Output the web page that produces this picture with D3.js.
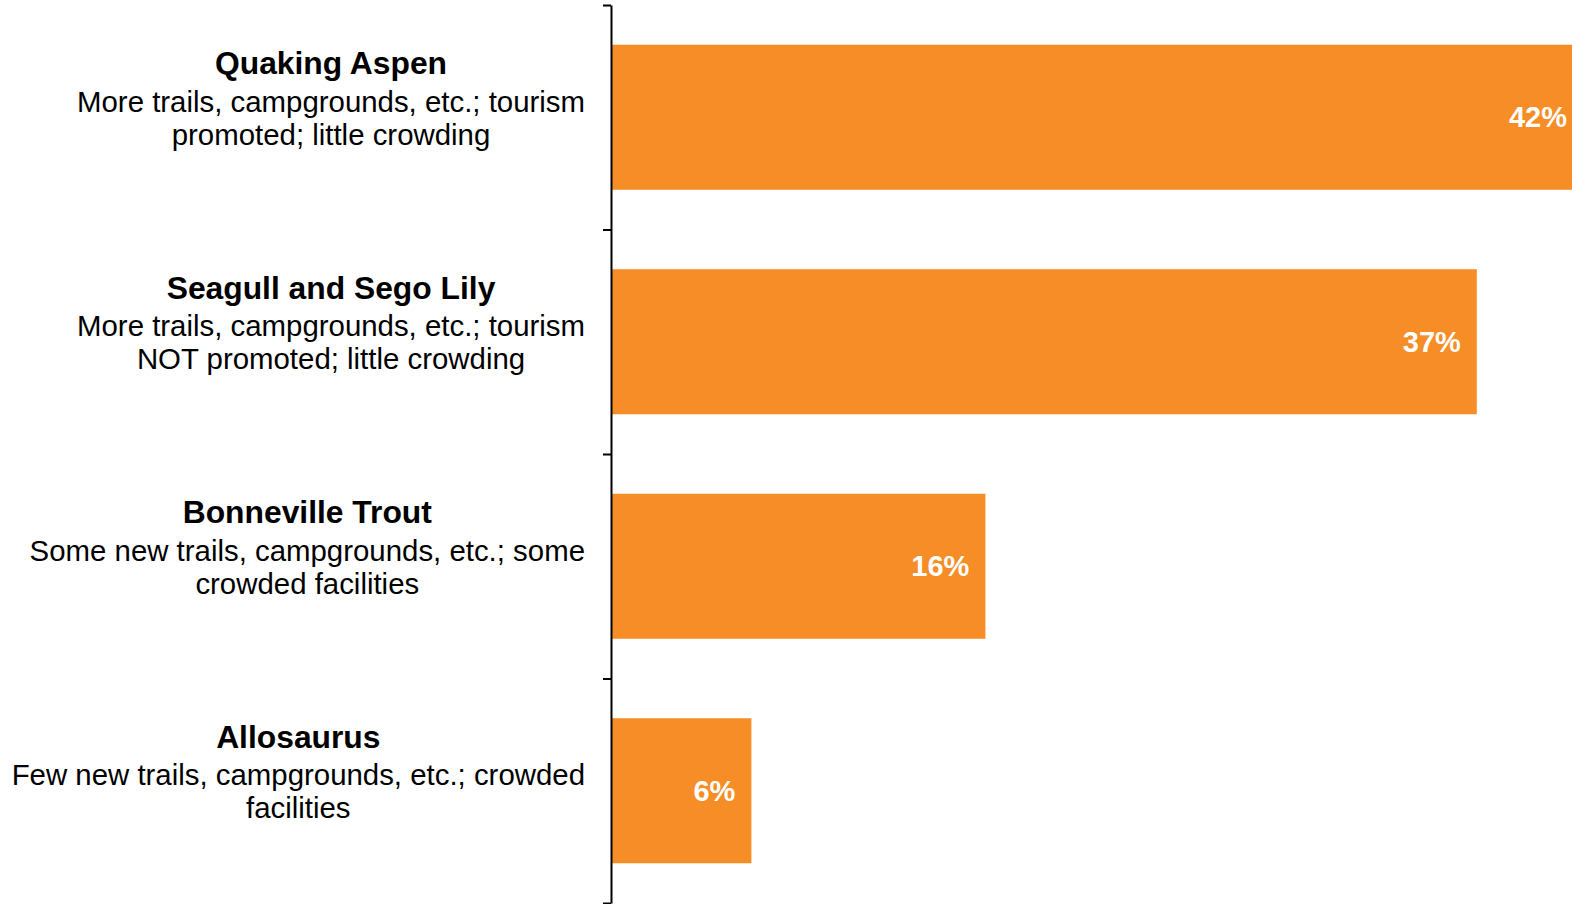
<!DOCTYPE html>
<html>
<head>
<meta charset="utf-8">
<script src="https://cdn.jsdelivr.net/npm/d3@7"></script>
<style>
  html, body { margin: 0; padding: 0; background: #fff; overflow: hidden; }
  svg { display: block; font-family: "Liberation Sans", Arial, sans-serif; }
</style>
</head>
<body>
<svg id="chart" width="1572" height="904"></svg>
<script>
// Alternatives, their descriptions and share of respondents (%)
const categories = ["Quaking Aspen", "Seagull and Sego Lily", "Bonneville Trout", "Allosaurus"];
const descriptions = [
  ["More trails, campgrounds, etc.; tourism", "promoted; little crowding"],
  ["More trails, campgrounds, etc.; tourism", "NOT promoted; little crowding"],
  ["Some new trails, campgrounds, etc.; some", "crowded facilities"],
  ["Few new trails, campgrounds, etc.; crowded", "facilities"]
];
const values = [42, 37, 16, 6];

const W = 1572, H = 904;
const axisX = 611, plotTop = 5, plotBottom = 903;
const labelRight = 585;

const svg = d3.select("#chart");

const y = d3.scaleBand()
  .domain(categories)
  .range([plotTop, plotBottom])
  .paddingInner(0.354)
  .paddingOuter(0.177);

const x = d3.scaleLinear()
  .domain([0, 40])
  .range([axisX, axisX + 936]);

const rows = categories.map((c, i) => ({ name: c, desc: descriptions[i], value: values[i] }));

// Bars
svg.append("g")
  .selectAll("rect")
  .data(rows)
  .join("rect")
  .attr("x", x(0))
  .attr("y", d => y(d.name))
  .attr("width", d => x(d.value) - x(0))
  .attr("height", y.bandwidth())
  .attr("fill", "#F68D26");

// Value labels inside the bar ends
svg.append("g")
  .selectAll("text")
  .data(rows)
  .join("text")
  .attr("x", d => Math.min(x(d.value) - 16, W - 5))
  .attr("y", d => y(d.name) + y.bandwidth() / 2)
  .attr("dy", "0.35em")
  .attr("text-anchor", "end")
  .attr("fill", "#fff")
  .attr("font-weight", "bold")
  .attr("font-size", 29)
  .text(d => d.value + "%");

// Vertical axis with ticks on the category boundaries
const boundary = d3.scaleLinear().domain([0, categories.length]).range([plotTop, plotBottom]);
const axisG = svg.append("g")
  .attr("transform", `translate(${axisX},0)`)
  .call(d3.axisLeft(boundary)
    .tickValues(d3.range(categories.length + 1))
    .tickSize(8)
    .tickSizeOuter(0)
    .tickFormat(""));
axisG.select(".domain").attr("stroke", "#000").attr("stroke-width", 2);
axisG.selectAll(".tick line").attr("stroke", "#000").attr("stroke-width", 2);

// Category labels: bold name plus two centred description lines,
// the block right-aligned against the axis
const labels = svg.append("g")
  .selectAll("g")
  .data(rows)
  .join("g");

labels.each(function (d) {
  const g = d3.select(this);
  const cy = y(d.name) + y.bandwidth() / 2;
  const lines = d.desc.map((t, k) =>
    g.append("text")
      .attr("y", cy + (k === 0 ? -16 : 17))
      .attr("dy", "0.35em")
      .attr("text-anchor", "middle")
      .attr("font-size", 29.4)
      .attr("fill", "#000")
      .text(t));
  const widest = d3.max(lines, t => t.node().getComputedTextLength());
  const cx = labelRight - widest / 2;
  lines.forEach(t => t.attr("x", cx));
  g.append("text")
    .attr("x", cx)
    .attr("y", cy - 54)
    .attr("dy", "0.35em")
    .attr("text-anchor", "middle")
    .attr("font-size", 31.8)
    .attr("font-weight", "bold")
    .attr("fill", "#000")
    .text(d.name);
});
</script>
</body>
</html>
